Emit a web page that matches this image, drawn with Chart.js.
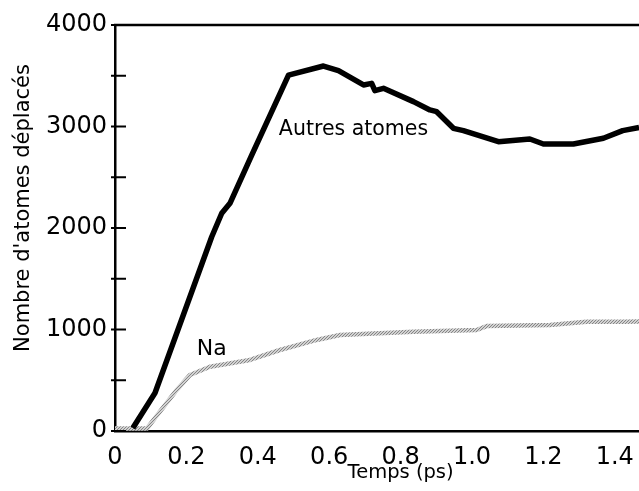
<!DOCTYPE html>
<html><head><meta charset="utf-8">
<script src="https://cdn.jsdelivr.net/npm/chart.js@4/dist/chart.umd.min.js"></script>
<style>html,body{margin:0;padding:0;overflow:hidden;background:#fff;width:639px;height:491px}canvas{display:block}</style>
</head><body>
<canvas id="c" width="700" height="491"></canvas>
<script>
// Data
const autresX = [0.05, 0.112, 0.271, 0.299, 0.322, 0.383, 0.486, 0.584, 0.626, 0.696, 0.719, 0.728, 0.752, 0.836, 0.882, 0.901, 0.948, 0.976, 1.074, 1.162, 1.2, 1.284, 1.368, 1.422, 1.468];
const autresY = [30, 374, 1914, 2145, 2243, 2719, 3507, 3596, 3550, 3409, 3425, 3353, 3376, 3245, 3163, 3146, 2982, 2959, 2850, 2877, 2828, 2828, 2884, 2959, 2990];
const naX = [0, 0.09, 0.112, 0.173, 0.21, 0.266, 0.378, 0.462, 0.565, 0.63, 0.836, 1.013, 1.041, 1.218, 1.321, 1.422, 1.468];
const naY = [25, 25, 128, 404, 552, 633, 700, 798, 897, 946, 978, 995, 1034, 1044, 1077, 1077, 1080];
const xTickValues = [0, 0.2, 0.4, 0.6, 0.8, 1.0, 1.2, 1.4];
const xTickLabels = ['0', '0.2', '0.4', '0.6', '0.8', '1.0', '1.2', '1.4'];
const seriesNames = ['Autres atomes', 'Na'];
const xTitle = 'Temps (ps)';
const yTitle = "Nombre d'atomes déplacés";

// label anchors (data space)
const seriesLabelAt = [{x: 0.459, y: 2970, size: 20.5}, {x: 0.229, y: 808, size: 22}];

const FONT = "'DejaVu Sans', sans-serif";

// stipple pattern for the Na curve
const pc = document.createElement('canvas'); pc.width = 3; pc.height = 3;
const g = pc.getContext('2d');
g.fillStyle = '#d2d2d2'; g.fillRect(0, 0, 3, 3);
g.fillStyle = '#858585'; g.fillRect(0, 0, 1, 1); g.fillRect(2, 1, 1, 1); g.fillRect(1, 2, 1, 1);
const naPattern = g.createPattern(pc, 'repeat');

const decor = {
  id: 'decor',
  afterDraw(chart) {
    const ctx = chart.ctx, a = chart.chartArea, ys = chart.scales.y, xs = chart.scales.x;
    ctx.save();
    ctx.strokeStyle = '#000'; ctx.lineWidth = 2.5;
    // top frame line
    ctx.beginPath(); ctx.moveTo(a.left - 1, a.top); ctx.lineTo(a.right, a.top); ctx.stroke();
    // crossing tick marks on the y axis
    ctx.lineWidth = 2;
    ys.ticks.forEach(t => {
      const py = ys.getPixelForValue(t.value);
      ctx.beginPath(); ctx.moveTo(a.left - 4, py); ctx.lineTo(a.left + 11, py); ctx.stroke();
    });
    // series labels
    ctx.fillStyle = '#000'; ctx.textBaseline = 'middle'; ctx.textAlign = 'left';
    seriesLabelAt.forEach((p, i) => {
      ctx.font = p.size + 'px ' + FONT;
      ctx.fillText(seriesNames[i], xs.getPixelForValue(p.x), ys.getPixelForValue(p.y));
    });
    // y axis title
    ctx.font = '21px ' + FONT;
    ctx.textAlign = 'center';
    ctx.translate(24, (a.top + a.bottom) / 2 - 20);
    ctx.rotate(-Math.PI / 2);
    ctx.fillText(yTitle, 0, 0);
    ctx.restore();
  }
};

new Chart(document.getElementById('c'), {
  type: 'line',
  data: {
    datasets: [
      {label: seriesNames[0], data: autresX.map((x, i) => ({x, y: autresY[i]})),
       borderColor: '#000', borderWidth: 5.5, pointRadius: 0, tension: 0, fill: false, borderJoinStyle: 'round'},
      {label: seriesNames[1], data: naX.map((x, i) => ({x, y: naY[i]})),
       borderColor: naPattern, borderWidth: 4.5, pointRadius: 0, tension: 0, fill: false, borderJoinStyle: 'round'}
    ]
  },
  options: {
    responsive: false,
    animation: false,
    layout: {padding: {top: 25, right: 13.8, left: 0, bottom: 0}},
    plugins: {legend: {display: false}, tooltip: {enabled: false}},
    scales: {
      x: {
        type: 'linear', min: 0, max: 1.6,
        afterBuildTicks: s => { s.ticks = xTickValues.map(v => ({value: v})); },
        afterFit: s => { s.height = 60; },
        grid: {display: true, drawOnChartArea: false, drawTicks: false},
        border: {color: '#000', width: 2.5},
        ticks: {autoSkip: false, maxRotation: 0, padding: 12, color: '#000',
                font: {family: FONT, size: 24},
                callback: (v, i) => xTickLabels[i]},
        title: {display: true, text: xTitle, color: '#000', font: {family: FONT, size: 19.5},
                padding: {top: 0, bottom: 6}}
      },
      y: {
        min: 0, max: 4000,
        afterFit: s => { s.width = 115; },
        grid: {display: true, drawOnChartArea: false, drawTicks: false},
        border: {color: '#000', width: 2.5},
        ticks: {stepSize: 500, padding: 8, color: '#000', font: {family: FONT, size: 24},
                callback: v => (v % 1000 === 0 ? String(v) : '')}
      }
    }
  },
  plugins: [decor]
});
</script>
</body></html>
